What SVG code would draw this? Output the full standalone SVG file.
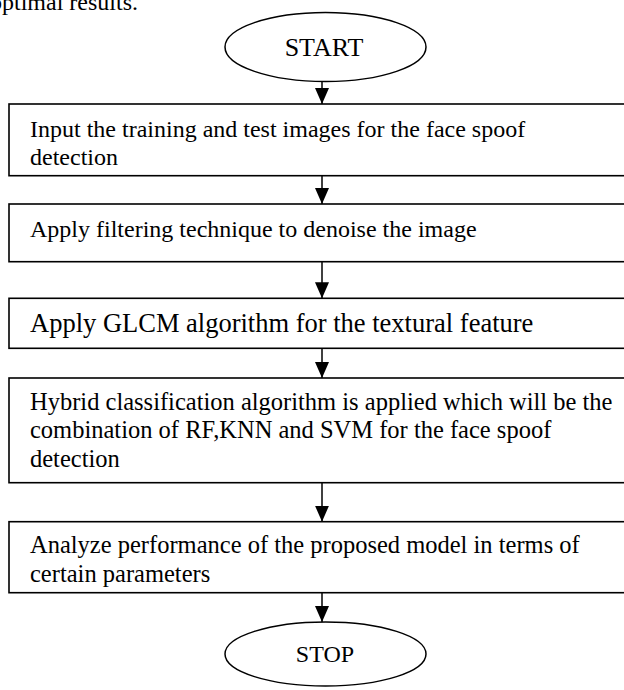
<svg xmlns="http://www.w3.org/2000/svg" width="624" height="690" viewBox="0 0 624 690">
<defs>
<style>
.box{fill:#fff;stroke:#000;stroke-width:1.6}
.term{fill:#fff;stroke:#000;stroke-width:1.5}
.t{font-family:"Liberation Serif","Times New Roman",serif;font-size:24px;fill:#000}
.c{stroke:#000;stroke-width:1.5;fill:none}
</style>
<marker id="ah" markerUnits="userSpaceOnUse" markerWidth="16" markerHeight="14" refX="16" refY="7" orient="auto"><path d="M0,0 L16,7 L0,14 z" fill="#000"/></marker>
</defs>
<rect width="624" height="690" fill="#fff"/>
<text class="t" x="-10" y="10">optimal results.</text>
<g id="start"><ellipse class="term" cx="325.5" cy="47" rx="100.5" ry="34.5"/><text class="t" x="324" y="56" text-anchor="middle" style="font-size:26px">START</text></g>
<g id="step1"><rect class="box" x="9" y="104" width="630" height="71.7"/><text class="t" x="30" y="136.7">Input the training and test images for the face spoof</text><text class="t" x="30" y="165">detection</text></g>
<g id="step2"><rect class="box" x="9" y="204" width="630" height="57.7"/><text class="t" x="30" y="236.7">Apply filtering technique to denoise the image</text></g>
<g id="step3"><rect class="box" x="9" y="298.3" width="630" height="50"/><text class="t" x="30" y="331.7" style="font-size:26.5px">Apply GLCM algorithm for the textural feature</text></g>
<g id="step4"><rect class="box" x="9" y="378" width="630" height="104.7"/><text class="t" x="30" y="410" style="font-size:24.5px">Hybrid classification algorithm is applied which will be the</text><text class="t" x="30" y="438.3" style="font-size:24.5px">combination of RF,KNN and SVM for the face spoof</text><text class="t" x="30" y="466.6" style="font-size:24.5px">detection</text></g>
<g id="step5"><rect class="box" x="9" y="521.7" width="630" height="71"/><text class="t" x="30" y="553.3" style="font-size:24.5px">Analyze performance of the proposed model in terms of</text><text class="t" x="30" y="581.6" style="font-size:24.5px">certain parameters</text></g>
<g id="stop"><ellipse class="term" cx="325.5" cy="654" rx="100.5" ry="32"/><text class="t" x="325" y="662" text-anchor="middle">STOP</text></g>
<g id="connectors">
<line class="c" x1="322" y1="81.5" x2="322" y2="104" marker-end="url(#ah)"/>
<line class="c" x1="322" y1="175.7" x2="322" y2="204" marker-end="url(#ah)"/>
<line class="c" x1="322" y1="261.7" x2="322" y2="298.3" marker-end="url(#ah)"/>
<line class="c" x1="322" y1="348.3" x2="322" y2="378" marker-end="url(#ah)"/>
<line class="c" x1="322" y1="482.7" x2="322" y2="521.7" marker-end="url(#ah)"/>
<line class="c" x1="322" y1="592.7" x2="322" y2="622" marker-end="url(#ah)"/>
</g>
</svg>
